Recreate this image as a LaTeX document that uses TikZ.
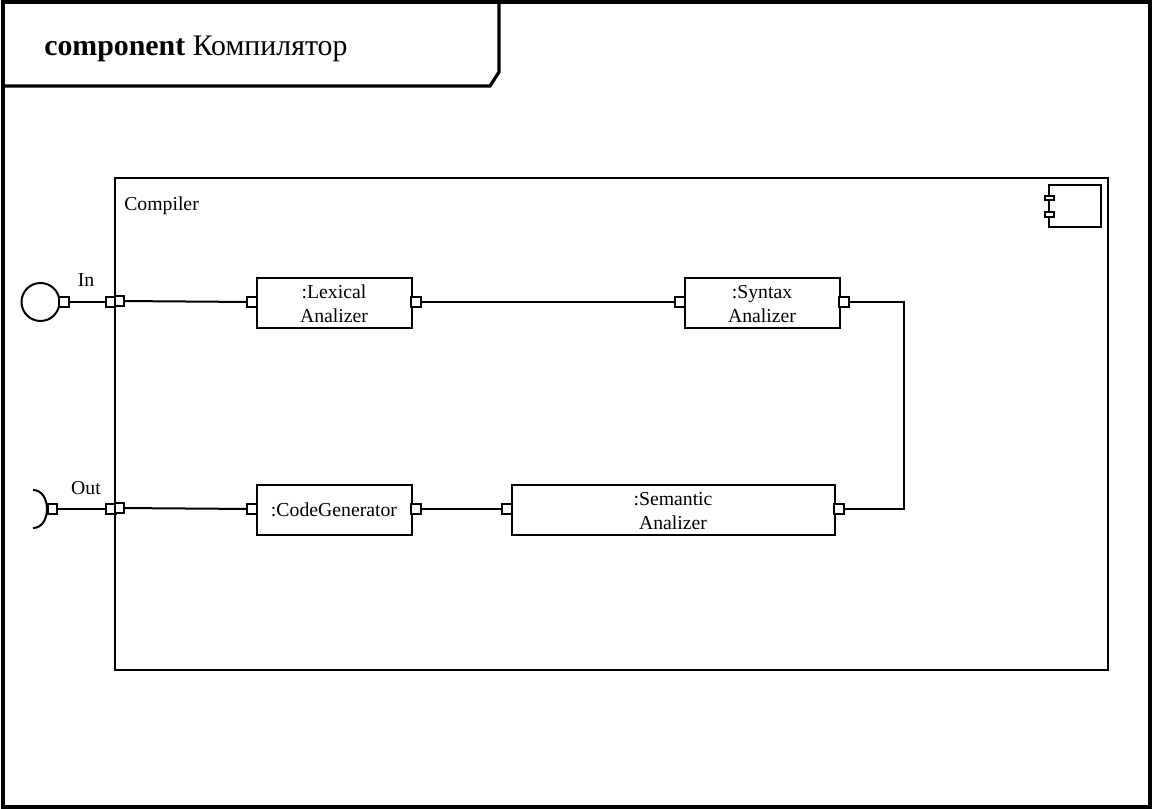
\documentclass[tikz,border=0pt]{standalone}
\usepackage{fontspec}
\setmainfont{Liberation Serif}
\newcommand{\lowerline}{\rule{0pt}{12.4pt}}
\tikzset{
  px/.style={x=0.75pt,y=-0.75pt},
  frameline/.style={draw=black,line width=2.4pt},
  boxline/.style={draw=black,line width=1.5pt},
  conn/.style={draw=black,line width=1.5pt},
  part/.style={draw=black,line width=1.5pt,fill=white,inner sep=0pt,align=center,font=\fontsize{14.8}{18}\selectfont,minimum height=37.5pt},
  portbox/.style={draw=black,line width=1.5pt,fill=white,inner sep=0pt,minimum width=6.8pt,minimum height=6.8pt},
  tabbox/.style={draw=black,line width=1.5pt,fill=white,inner sep=0pt,minimum width=6.5pt,minimum height=3.6pt},
  lbl/.style={inner sep=0pt,font=\fontsize{14.8}{18}\selectfont}
}
\begin{document}
\begin{tikzpicture}[px]
\useasboundingbox (0,0) rectangle (1152,809);
\draw[frameline] (3,2) rectangle (1150,807);
\draw[frameline] (3,86) -- (490,86) -- (499,72) -- (499,2);
\node[lbl,anchor=base west,font=\fontsize{22.4}{26}\selectfont] (title) at (44,56) {\textbf{component} Компилятор};
\node[boxline,rectangle,minimum width=744.75pt,minimum height=369pt,inner sep=0pt] (compiler) at (611.5,424) {};
\node[lbl,anchor=base west] (compilerlabel) at (124,211) {Compiler};
\draw[boxline] (1049,185) rectangle (1101,227);
\node[tabbox] (tabA) at (1049.5,198) {};
\node[tabbox] (tabB) at (1049.5,214.5) {};
\node[part,minimum width=116.25pt] (lex) at (334,302.5) {\lowerline:Lexical\\Analizer};
\node[part,minimum width=116.25pt] (syn) at (762,302.5) {\lowerline:Syntax\\Analizer};
\node[part,minimum width=116.25pt] (gen) at (334,509.5) {\raisebox{-0.6pt}{:CodeGenerator}};
\node[part,minimum width=242.25pt] (sem) at (673,509.5) {\lowerline:Semantic\\Analizer};
\node[circle,draw=black,line width=1.5pt,minimum size=28.5pt,inner sep=0pt] (inball) at (40.5,302) {};
\draw[conn] (33,490) .. controls (42,490) and (47,499) .. (47,509) .. controls (47,519) and (42,528) .. (33,528);
\coordinate (outsock) at (47,509);
\node[portbox] (pInA) at (64,302) {};
\node[portbox] (pInB) at (110.5,302) {};
\node[portbox] (pInC) at (119.5,301) {};
\node[portbox] (pOutA) at (52.5,509) {};
\node[portbox] (pOutB) at (111,509) {};
\node[portbox] (pOutC) at (119.5,508) {};
\node[portbox] (pLexL) at (252,302) {};
\node[portbox] (pLexR) at (416,302) {};
\node[portbox] (pSynL) at (680,302) {};
\node[portbox] (pSynR) at (844,302) {};
\node[portbox] (pGenL) at (252,509) {};
\node[portbox] (pGenR) at (416,509) {};
\node[portbox] (pSemL) at (507,509) {};
\node[portbox] (pSemR) at (839,509) {};
\draw[conn] (pInA) -- (pInB);
\draw[conn] (pInC) -- (pLexL);
\draw[conn] (pLexR) -- (pSynL);
\draw[conn] (pSynR.east) -- (904,302) -- (904,509) -- (pSemR.east);
\draw[conn] (pSemL) -- (pGenR);
\draw[conn] (pGenL) -- (pOutC);
\draw[conn] (pOutB) -- (pOutA);
\node[lbl] (inlabel) at (86,280) {In};
\node[lbl] (outlabel) at (86,488) {Out};
\end{tikzpicture}
\end{document}
